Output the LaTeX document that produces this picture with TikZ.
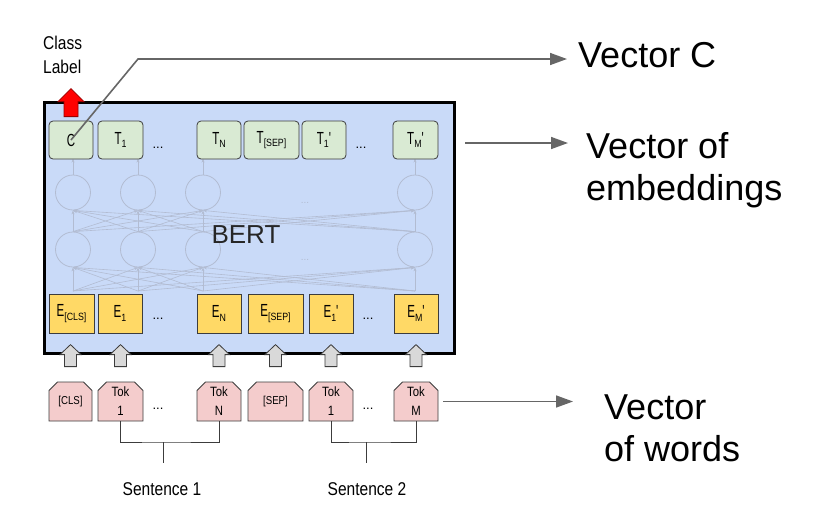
\documentclass[tikz,border=0pt]{standalone}
\usepackage{fontspec}
\setmainfont{Liberation Sans}
\newfontfamily\narrowfont[FakeStretch=0.84]{Liberation Sans}
\newfontfamily\slimfont[FakeStretch=0.66]{Liberation Sans}
\usepackage{tikz}
\usetikzlibrary{arrows.meta,positioning,shapes.misc,calc}
\definecolor{bertblue}{RGB}{201,218,248}
\definecolor{tgreen}{RGB}{217,234,211}
\definecolor{eyellow}{RGB}{255,217,102}
\definecolor{tokpink}{RGB}{244,204,204}
\definecolor{arrgray}{RGB}{217,217,217}
\definecolor{boxline}{RGB}{60,60,60}
\definecolor{linegray}{RGB}{102,102,102}
\definecolor{netgray}{RGB}{178,188,210}
\newcommand{\lsub}[1]{\raisebox{-3.5pt}{\fontsize{10.5}{12}\selectfont\narrowfont #1}}

\begin{document}
\begin{tikzpicture}[x=1pt,y=-1pt,>={Triangle[length=17pt,width=12pt]},
  every node/.style={inner sep=0pt},
  bertbox/.style={draw=black,fill=bertblue,line width=3pt,minimum width=410pt,minimum height=251pt},
  tbox/.style={draw=boxline,fill=tgreen,rounded corners=4pt,line width=0.8pt,minimum height=38pt,font=\slimfont\fontsize{17.5}{20}\selectfont},
  ebox/.style={draw=boxline,fill=eyellow,line width=0.8pt,minimum height=39pt,font=\slimfont\fontsize{17.5}{20}\selectfont},
  tokbox/.style={chamfered rectangle,chamfered rectangle corners={north west,north east},
    chamfered rectangle xsep=5pt,chamfered rectangle angle=45,draw=boxline,fill=tokpink,
    line width=0.8pt,minimum height=39pt,align=center,font=\narrowfont\fontsize{13.5}{19}\selectfont},
  dots/.style={anchor=base,font=\fontsize{13}{15}\selectfont},
  netcirc/.style={circle,draw=netgray,line width=0.8pt,minimum size=35pt},
  netline/.style={draw=netgray,line width=0.6pt,-{Stealth[length=4pt,width=3pt]}},
  vline/.style={draw=linegray,line width=1.6pt},
  brk/.style={draw=boxline,line width=1pt},
  bigtxt/.style={font=\fontsize{36}{42}\selectfont},
  grayup/.pic={\draw[draw=boxline,fill=arrgray,line width=0.8pt]
    (0,0) -- (10.5,10) -- (6,10) -- (6,22) -- (-6,22) -- (-6,10) -- (-10.5,10) -- cycle;},
  redup/.pic={\draw[draw=red!60!black,fill=red,line width=0.8pt]
    (0,0) -- (13,13) -- (7,13) -- (7,28) -- (-7,28) -- (-7,13) -- (-13,13) -- cycle;}]
  \useasboundingbox (0,0) rectangle (820,507);

  % BERT block with the faint network
  \node[bertbox] (bert) at (249.5,228) {};
  \foreach \x/\n in {73/a,138/b,203/c,415/d}{
    \node[netcirc] (n1\n) at (\x,192.5) {};
    \node[netcirc] (n2\n) at (\x,249.5) {};
    \coordinate (b\n) at (\x,291);
  }
  \foreach \i in {a,b,c,d}{
    \foreach \j in {a,b,c,d}{
      \draw[netline] (b\i) -- (n2\j.south);
      \draw[netline] (n2\i.north) -- (n1\j.south);
    }
    \draw[netline] (n1\i.north) -- ++(0,-16);
  }
  \node[text=netgray,font=\fontsize{10}{12}\selectfont] (nd1) at (305,203) {...};
  \node[text=netgray,font=\fontsize{10}{12}\selectfont] (nd2) at (305,260) {...};
  \node[anchor=base,text=black!85,font=\fontsize{26}{30}\selectfont] (bname) at (246,243) {BERT};

  % output row
  \node[tbox,minimum width=44pt] (tC) at (71,140) {C};
  \node[tbox,minimum width=45pt] (t1) at (120.5,140) {T\lsub{1}};
  \node[dots] (td1) at (158,148) {...};
  \node[tbox,minimum width=44pt] (tN) at (219,140) {T\lsub{N}};
  \node[tbox,minimum width=55pt] (tsep) at (271.5,140) {T\lsub{[SEP]}};
  \node[tbox,minimum width=44pt] (t1b) at (324,140) {T\lsub{1}'};
  \node[dots] (td2) at (361,148) {...};
  \node[tbox,minimum width=45pt] (tM) at (415.5,140) {T\lsub{M}'};

  % embedding row
  \node[ebox,minimum width=45pt] (ecls) at (71.5,313.5) {E\lsub{[CLS]}};
  \node[ebox,minimum width=44pt] (e1) at (120,313.5) {E\lsub{1}};
  \node[dots] (ed1) at (158,319) {...};
  \node[ebox,minimum width=44pt] (eN) at (219,313.5) {E\lsub{N}};
  \node[ebox,minimum width=55pt] (esep) at (275.5,313.5) {E\lsub{[SEP]}};
  \node[ebox,minimum width=44pt] (e1b) at (331,313.5) {E\lsub{1}'};
  \node[dots] (ed2) at (368,319) {...};
  \node[ebox,minimum width=44pt] (eM) at (416,313.5) {E\lsub{M}'};

  % input tokens
  \node[tokbox,minimum width=43pt,font=\narrowfont\fontsize{11.5}{14}\selectfont] (kcls) at (70.5,401.5) {[CLS]};
  \node[tokbox,minimum width=45pt] (k1) at (120.5,401.5) {Tok\\1};
  \node[dots] (kd1) at (158,409) {...};
  \node[tokbox,minimum width=44pt] (kN) at (219,401.5) {Tok\\N};
  \node[tokbox,minimum width=55pt,font=\narrowfont\fontsize{11.5}{14}\selectfont] (ksep) at (275.5,401.5) {[SEP]};
  \node[tokbox,minimum width=44pt] (k1b) at (331,401.5) {Tok\\1};
  \node[dots] (kd2) at (368,409) {...};
  \node[tokbox,minimum width=44pt] (kM) at (416,401.5) {Tok\\M};

  \foreach \k in {kcls,k1,kN,ksep,k1b,kM}
    \pic at ($(\k.north)+(0,-37)$) {grayup};
  \pic at ($(tC.north)+(0,-32)$) {redup};
  \node[anchor=west,align=left,font=\narrowfont\fontsize{18.5}{24}\selectfont] (clabel) at (43,55) {Class\\Label};

  % sentence brackets
  \coordinate (s1top) at (163,442);
  \coordinate (s2top) at (366,442);
  \draw[brk] (k1.south) |- (s1top) -| (kN.south);
  \draw[brk] (s1top) -- ++(0,21);
  \draw[brk] (k1b.south) |- (s2top) -| (kM.south);
  \draw[brk] (s2top) -- ++(0,21);
  \node[anchor=base,font=\narrowfont\fontsize{18.5}{22}\selectfont] (sent1) at (162,495) {Sentence 1};
  \node[anchor=base,font=\narrowfont\fontsize{18.5}{22}\selectfont] (sent2) at (367,495) {Sentence 2};

  % right hand labels
  \coordinate (cbend) at (138,59);
  \coordinate (vctip) at (567,59);
  \coordinate (embtip) at (568,143);
  \coordinate (wtip) at (573,403);
  \draw[vline,->] (tC.center) -- (cbend) -- (vctip);
  \draw[vline,->] ($(bert.east |- embtip)+(9,0)$) -- (embtip);
  \draw[vline,->] ($(kM.east)+(5,0)$) -- (kM.east -| wtip);
  \node[bigtxt,anchor=base west] (vC) at (578,67) {Vector C};
  \node[bigtxt,anchor=west,align=left] (vE) at (586,170) {Vector of\\embeddings};
  \node[bigtxt,anchor=west,align=left] (vW) at (604,428.5) {Vector\\of words};
\end{tikzpicture}
\end{document}
